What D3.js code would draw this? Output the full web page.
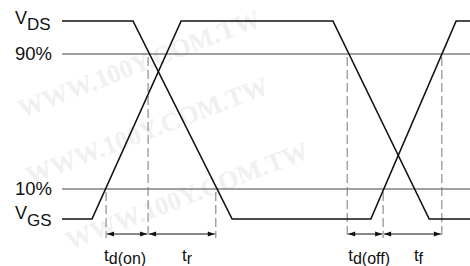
<!DOCTYPE html>
<html><head><meta charset="utf-8">
<script src="https://cdn.jsdelivr.net/npm/d3@7"></script>
<style>body{margin:0;background:#fff}svg{display:block}</style>
</head><body>
<script>
// time axis: 0..100 (schematic units), level axis: 0..100 (%)
const vgsTimes  = [0, 7.35, 29.2, 66.4, 90.0, 100];
const vgsLevels = [0, 0, 100, 100, 0, 0];
const vdsTimes  = [0, 17.4, 41.7, 75.7, 96.6, 100];
const vdsLevels = [100, 100, 0, 0, 100, 100];
const refLevels = [90, 10];
const refLabels = ["90%", "10%"];
const markerTimes  = [10.8, 21.1, 37.7, 69.9, 78.7, 93.1];
const markerLevels = [10, 90, 10, 90, 10, 90];
const intervalNames = ["d(on)", "r", "d(off)", "f"];
const intervalFrom  = [0, 1, 3, 4];   // marker indices
const intervalTo    = [1, 2, 4, 5];
const labelShift    = [-2, 5, 4, 6];
const watermark = "WWW.100Y.COM.TW";

const W = 470, H = 266;
const x = d3.scaleLinear().domain([0, 100]).range([62, 470]);
const y = d3.scaleLinear().domain([0, 10, 90, 100]).range([219, 189, 54, 21]);
const arrowY = 234, dashBottom = 238;

const svg = d3.select("body").append("svg").attr("width", W).attr("height", H);

// faint watermark
const wm = svg.append("g").attr("fill", "#f0f0f0")
  .attr("font-family", "'Liberation Serif','DejaVu Serif',serif").attr("font-weight", "bold")
  .attr("font-size", 26);
[[22,118],[30,185],[70,250]].forEach(p => {
  wm.append("text").attr("transform", `translate(${p[0]},${p[1]}) rotate(-21)`).text(watermark);
});

const defs = svg.append("defs");
defs.append("marker").attr("id", "ah").attr("viewBox", "0 0 10 10")
  .attr("refX", 10).attr("refY", 5).attr("markerWidth", 9).attr("markerHeight", 7)
  .attr("markerUnits", "userSpaceOnUse").attr("orient", "auto-start-reverse")
  .append("path").attr("d", "M0,1.5L10,5L0,8.5Z").attr("fill", "#111");

// reference lines
svg.selectAll(".ref").data(refLevels).join("line")
  .attr("x1", x(0)).attr("x2", x(100)).attr("y1", d => y(d)).attr("y2", d => y(d))
  .attr("stroke", "#444").attr("stroke-width", 1.2);

// dashed markers
svg.selectAll(".mk").data(markerTimes).join("line")
  .attr("x1", d => x(d)).attr("x2", d => x(d))
  .attr("y1", (d, i) => y(markerLevels[i]) + 3).attr("y2", dashBottom)
  .attr("stroke", "#777").attr("stroke-width", 1).attr("stroke-dasharray", "9,4");

// waveforms
const line = d3.line().x(d => x(d[0])).y(d => y(d[1]));
svg.append("path").datum(d3.zip(vgsTimes, vgsLevels)).attr("d", line)
  .attr("fill", "none").attr("stroke", "#111").attr("stroke-width", 1.6);
svg.append("path").datum(d3.zip(vdsTimes, vdsLevels)).attr("d", line)
  .attr("fill", "none").attr("stroke", "#111").attr("stroke-width", 1.6);

// interval arrows + labels
intervalNames.forEach((nm, i) => {
  const a = x(markerTimes[intervalFrom[i]]) + 1, b = x(markerTimes[intervalTo[i]]) - 1;
  svg.append("line").attr("x1", a).attr("x2", b).attr("y1", arrowY).attr("y2", arrowY)
    .attr("stroke", "#111").attr("stroke-width", 1)
    .attr("marker-start", "url(#ah)").attr("marker-end", "url(#ah)");
  const t = svg.append("text").attr("x", (a + b) / 2 + labelShift[i]).attr("y", 261)
    .attr("text-anchor", "middle").attr("font-family", "'Liberation Sans',Arial,sans-serif")
    .attr("font-size", 17).attr("fill", "#111");
  t.append("tspan").text("t");
  t.append("tspan").attr("dy", 2.5).attr("font-size", 16).text(nm);
});

// left labels
const lf = "'Liberation Sans',Arial,sans-serif";
function vlabel(sub, yb, dy) {
  const t = svg.append("text").attr("x", 15).attr("y", yb).attr("font-family", lf)
    .attr("font-size", 18).attr("fill", "#111");
  t.append("tspan").text("V");
  t.append("tspan").attr("dy", dy).attr("font-size", 17).text(sub);
}
vlabel("DS", 23.5, 6.5);
vlabel("GS", 218.5, 7.5);
svg.selectAll(".rl").data(refLevels).join("text")
  .attr("x", 15).attr("y", d => y(d) + 6).attr("font-family", lf).attr("font-size", 18.5)
  .attr("fill", "#111").text((d, i) => refLabels[i]);
</script>
</body></html>
